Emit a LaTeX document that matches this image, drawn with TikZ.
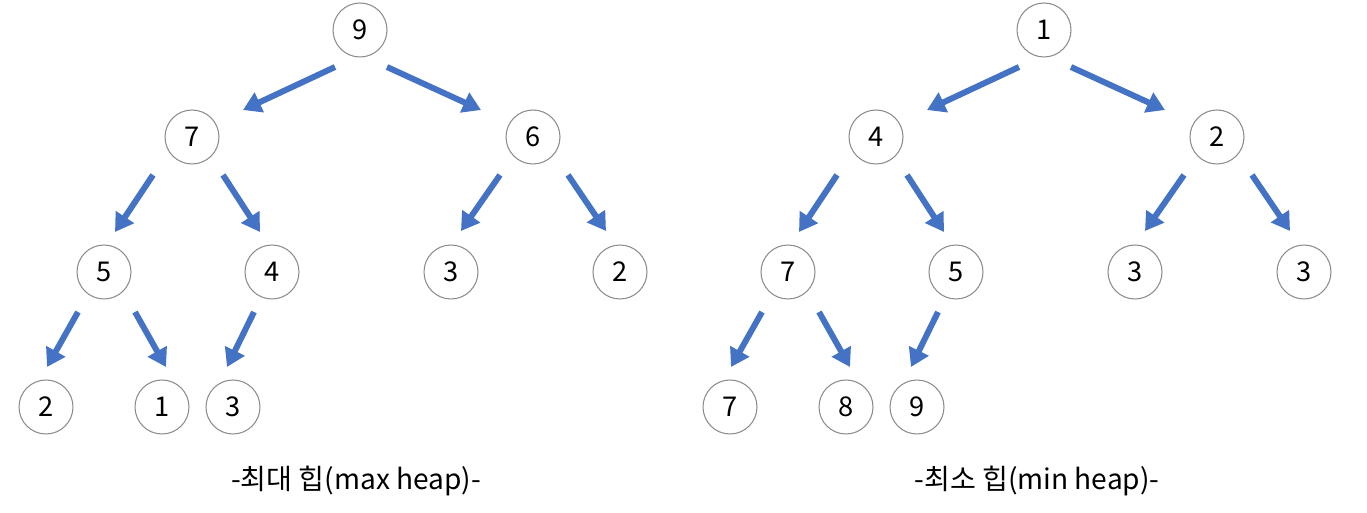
\documentclass[tikz,border=0pt]{standalone}
\usepackage{fontspec}
\setmainfont{Noto Sans CJK KR}
\usepackage{xcolor}
\usetikzlibrary{calc,arrows.meta}
\definecolor{heapblue}{HTML}{4472C4}

\begin{document}
\begin{tikzpicture}[x=0.02cm,y=-0.02cm,
  key/.style={circle,draw=gray!90,line width=0.6pt,minimum size=1.08cm,inner sep=0pt,font=\fontsize{15.5}{18}\selectfont},
  push/.style={-{Triangle[length=0.36cm,width=0.42cm]},line width=3.4pt,draw=heapblue},
  title/.style={font=\fontsize{16}{19}\selectfont}]
\useasboundingbox (0,0) rectangle (1367,513);
% max heap
\node[key] (a1) at (360,30) {9};
\node[key] (a2) at (192,137) {7};
\node[key] (a3) at (533,137) {6};
\node[key] (a4) at (104,272) {5};
\node[key] (a5) at (272,272) {4};
\node[key] (a6) at (451,272) {3};
\node[key] (a7) at (620,272) {2};
\node[key] (a8) at (46,407) {2};
\node[key] (a9) at (162,407) {1};
\node[key] (a10) at (233,407) {3};
\draw[push] ($(a1)+(-25,37)$) -- ($(a2)+(51,-27)$);
\draw[push] ($(a1)+(27,37)$) -- ($(a3)+(-52,-27)$);
\draw[push] ($(a2)+(-39,38)$) -- ($(a4)+(11,-40)$);
\draw[push] ($(a2)+(31,38)$) -- ($(a5)+(-12,-40)$);
\draw[push] ($(a3)+(-33,38)$) -- ($(a6)+(10,-41)$);
\draw[push] ($(a3)+(35,38)$) -- ($(a7)+(-14,-41)$);
\draw[push] ($(a4)+(-26,40)$) -- ($(a8)+(1,-40)$);
\draw[push] ($(a4)+(31,40)$) -- ($(a9)+(4,-40)$);
\draw[push] ($(a5)+(-18,40)$) -- ($(a10)+(-6,-40)$);
\node[title] (amax) at (356,481) {-최대 힙(max heap)-};
% min heap
\node[key] (b1) at (1044,30) {1};
\node[key] (b2) at (876,137) {4};
\node[key] (b3) at (1217,137) {2};
\node[key] (b4) at (788,272) {7};
\node[key] (b5) at (956,272) {5};
\node[key] (b6) at (1135,272) {3};
\node[key] (b7) at (1304,272) {3};
\node[key] (b8) at (730,407) {7};
\node[key] (b9) at (846,407) {8};
\node[key] (b10) at (917,407) {9};
\draw[push] ($(b1)+(-25,37)$) -- ($(b2)+(51,-27)$);
\draw[push] ($(b1)+(27,37)$) -- ($(b3)+(-52,-27)$);
\draw[push] ($(b2)+(-39,38)$) -- ($(b4)+(11,-40)$);
\draw[push] ($(b2)+(31,38)$) -- ($(b5)+(-12,-40)$);
\draw[push] ($(b3)+(-33,38)$) -- ($(b6)+(10,-41)$);
\draw[push] ($(b3)+(35,38)$) -- ($(b7)+(-14,-41)$);
\draw[push] ($(b4)+(-26,40)$) -- ($(b8)+(1,-40)$);
\draw[push] ($(b4)+(31,40)$) -- ($(b9)+(4,-40)$);
\draw[push] ($(b5)+(-18,40)$) -- ($(b10)+(-6,-40)$);
\node[title] (bmin) at (1037,481) {-최소 힙(min heap)-};
\end{tikzpicture}
\end{document}
